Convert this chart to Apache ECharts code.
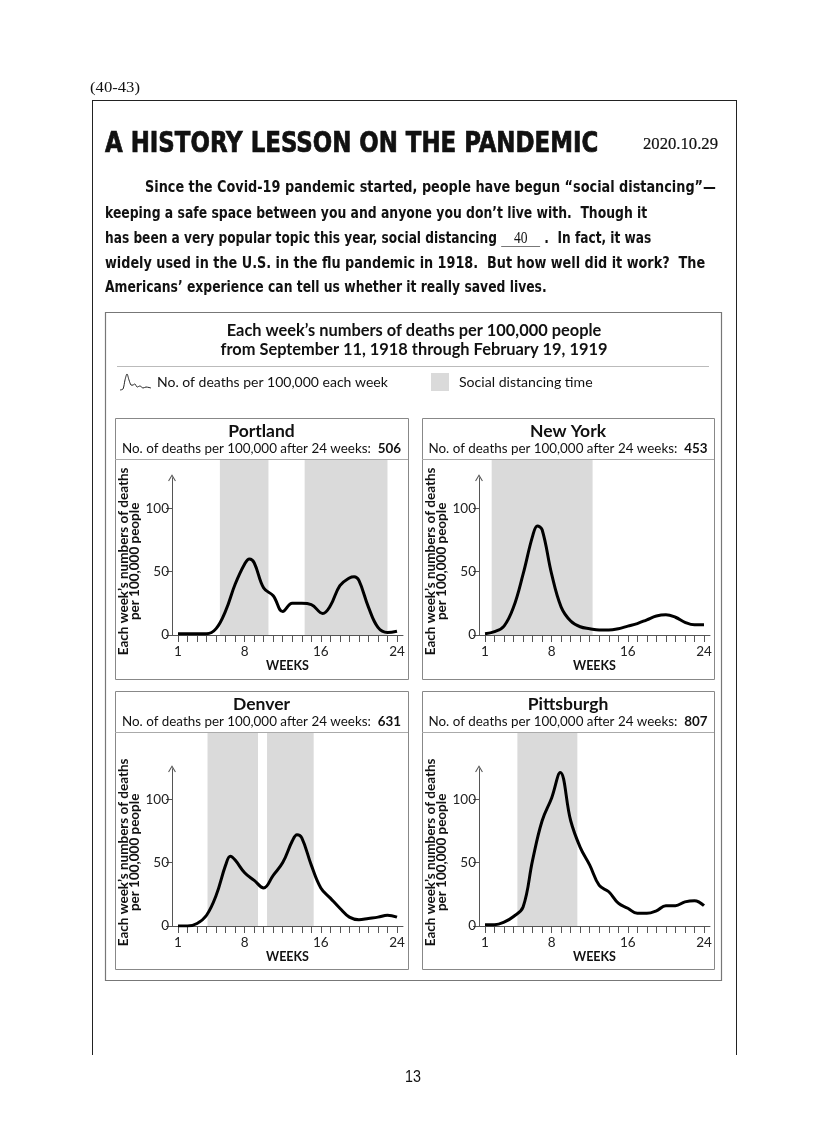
<!DOCTYPE html>
<html><head><meta charset="utf-8">
<script src="https://cdn.jsdelivr.net/npm/echarts@6/dist/echarts.min.js"></script>
<style>
html,body{margin:0;padding:0;background:#fff;}
#page{position:relative;width:827px;height:1142px;overflow:hidden;background:#fff;}
#chart{position:absolute;left:0;top:0;width:827px;height:1142px;z-index:1;}
.t{position:absolute;white-space:pre;transform-origin:0 50%;z-index:2;line-height:1.15;color:#111;}
.para{font-family:"Liberation Sans Narrow","DejaVu Sans Condensed","Liberation Sans",sans-serif;font-weight:bold;font-size:16px;}
.serif{font-family:"Liberation Serif","DejaVu Serif",serif;}
.blank{display:inline-block;width:46px;text-align:center;border-bottom:1px solid #777;font-family:"Liberation Serif",serif;font-weight:normal;line-height:1;}
.ln{position:absolute;background:#222;z-index:2;}
</style></head>
<body><div id="page">
<div id="chart"></div>
<div class="ln" style="left:92px;top:100px;width:645px;height:1px;"></div>
<div class="ln" style="left:92px;top:100px;width:1px;height:955px;"></div>
<div class="ln" style="left:736px;top:100px;width:1px;height:955px;"></div>
<div class="t serif" id="num" style="font-size:15px;">(40-43)</div>
<div class="t" id="title" style="font-family:'DejaVu Sans Condensed','Liberation Sans',sans-serif;font-weight:900;font-size:29px;-webkit-text-stroke:0.7px #111;">A HISTORY LESSON ON THE PANDEMIC</div>
<div class="t serif" id="date" style="font-size:16px;-webkit-text-stroke:0.2px #111;">2020.10.29</div>
<div class="t para" id="p1">Since the Covid-19 pandemic started, people have begun “social distancing”—</div>
<div class="t para" id="p2">keeping a safe space between you and anyone you don’t live with.  Though it</div>
<div class="t para" id="p3">has been a very popular topic this year, social distancing <span class="blank">40</span> .  In fact, it was</div>
<div class="t para" id="p4">widely used in the U.S. in the flu pandemic in 1918.  But how well did it work?  The</div>
<div class="t para" id="p5">Americans’ experience can tell us whether it really saved lives.</div>
<div class="t" id="pg" style="font-family:'Liberation Sans',sans-serif;font-size:17px;">13</div>
</div>
<script>
// ---------------- data ----------------
const cityNames = ['Portland', 'New York', 'Denver', 'Pittsburgh'];
const totalDeaths = [506, 453, 631, 807];

const portlandWeeks  = [1, 2, 3, 4, 5, 6, 7, 8, 8.5, 9, 10, 11, 12, 13, 14, 15, 16.2, 17, 18, 19, 19.5, 20, 21, 22, 23, 24];
const portlandDeaths = [1, 1, 1, 1, 5, 19, 40, 56, 60, 57, 37, 31, 18.5, 25, 25, 24, 17, 23, 39, 45, 46, 43, 22, 6, 2, 3];
const portlandDistancing = [[5.4, 10.5], [14.3, 23.0]];

const newYorkWeeks  = [1, 2, 3, 4, 5, 6, 6.5, 7, 8, 9, 10, 11, 12, 13, 14, 15, 16, 17, 18, 19, 20, 21, 22, 23, 24];
const newYorkDeaths = [1, 2.6, 7, 22, 48, 78, 86, 83, 48, 22, 11, 6.5, 5, 4, 4, 5, 7, 9, 12, 15, 16, 14, 10, 8, 8];
const newYorkDistancing = [[1.7, 12.3]];

const denverWeeks  = [1, 2, 3, 4, 5, 6, 6.5, 7, 8, 9, 10, 11, 12, 13, 13.5, 14, 15, 16, 17, 18, 19, 20, 21, 22, 23, 24];
const denverDeaths = [0, 0, 2, 8.5, 24, 48, 55, 52, 42, 36, 30, 40, 50, 67, 72, 69.5, 48, 30, 22, 14, 7, 5, 6, 7, 8.5, 7];
const denverDistancing = [[4.1, 9.4], [10.35, 15.25]];

const pittsburghWeeks  = [1, 2, 3, 4, 5, 6, 7, 8, 8.9, 10, 11, 12, 13, 14, 15, 16, 17, 18, 19, 20, 21, 22, 23, 24];
const pittsburghDeaths = [1, 1, 3, 7.5, 15, 52, 83, 101, 121, 83, 62, 48, 32, 27, 18, 14, 10, 10, 12, 16, 16, 19, 20, 16];
const pittsburghDistancing = [[4.4, 10.7]];

const weekTicks = [1, 2, 3, 4, 5, 6, 7, 8, 9, 10, 11, 12, 13, 14, 15, 16, 17, 18, 19, 20, 21, 22, 23, 24];
const weekLabels = [1, 8, 16, 24];
const deathLabels = [0, 50, 100];

const allWeeks = [portlandWeeks, newYorkWeeks, denverWeeks, pittsburghWeeks];
const allDeaths = [portlandDeaths, newYorkDeaths, denverDeaths, pittsburghDeaths];
const allDistancing = [portlandDistancing, newYorkDistancing, denverDistancing, pittsburghDistancing];

// ---------------- layout ----------------
const FONT = 'Lato, "Open Sans", sans-serif';
const panelBoxes = [
  {x: 115, y: 418, w: 293, h: 261},
  {x: 422, y: 418, w: 292, h: 261},
  {x: 115, y: 691, w: 293, h: 278},
  {x: 422, y: 691, w: 292, h: 278}
];
const plotGeom = [
  {left: 172, bottom: 635, sep: 459},
  {left: 479, bottom: 635, sep: 459},
  {left: 172, bottom: 926, sep: 732},
  {left: 479, bottom: 926, sep: 732}
];
const PLOT_W = 231, YMAX = 124, YPX = 1.268;

const grids = [], xAxes = [], yAxes = [], series = [], graphics = [];
const arrowPath = 'path://M0,10 L6,0 L12,10 L10.6,10.8 L6,3 L1.4,10.8 Z';

for (let i = 0; i < 4; i++) {
  const g = plotGeom[i];
  const plotTop = g.bottom - YMAX * YPX;
  // shading grid
  grids.push({left: g.left, top: g.sep + 1, width: PLOT_W, height: g.bottom - g.sep - 1, containLabel: false});
  xAxes.push({type: 'value', gridIndex: 2 * i, min: 0.37, max: 24.63, show: false});
  yAxes.push({type: 'value', gridIndex: 2 * i, min: 0, max: 1, show: false});
  series.push({
    type: 'line', xAxisIndex: 2 * i, yAxisIndex: 2 * i, data: [[allDistancing[i][0][0], 0]],
    symbol: 'none', lineStyle: {width: 0, opacity: 0}, silent: true, z: 1,
    markArea: {silent: true, itemStyle: {color: '#dadada'},
      data: allDistancing[i].map(r => [{xAxis: r[0]}, {xAxis: r[1]}])}
  });
  // main grid
  grids.push({left: g.left, top: plotTop, width: PLOT_W, height: YMAX * YPX, containLabel: false});
  xAxes.push({
    type: 'value', gridIndex: 2 * i + 1, min: 0.37, max: 24.63,
    axisLine: {show: true, onZero: false, lineStyle: {color: '#555', width: 1}},
    axisTick: {show: true, customValues: weekTicks, length: 7, lineStyle: {color: '#555'}},
    axisLabel: {customValues: weekLabels, fontSize: 13.5, color: '#222', margin: 10, fontFamily: FONT},
    splitLine: {show: false},
    name: 'WEEKS', nameLocation: 'middle', nameGap: 23,
    nameTextStyle: {fontWeight: 'bold', fontSize: 12.5, color: '#111', fontFamily: FONT}
  });
  yAxes.push({
    type: 'value', gridIndex: 2 * i + 1, min: 0, max: YMAX,
    axisLine: {show: true, lineStyle: {color: '#555', width: 1}, symbol: ['none', arrowPath], symbolSize: [8, 7]},
    axisTick: {show: true, customValues: deathLabels, length: 6, lineStyle: {color: '#555'}},
    axisLabel: {customValues: deathLabels, fontSize: 13.5, color: '#222', margin: 3, fontFamily: FONT},
    splitLine: {show: false},
    name: 'Each week’s numbers of deaths\nper 100,000 people', nameLocation: 'middle', nameGap: 30, nameRotate: 90,
    nameTextStyle: {fontWeight: 'bold', fontSize: 13.5, color: '#111', lineHeight: 11, fontFamily: FONT, padding: [0, 10, 0, 0]}
  });
  series.push({
    type: 'line', xAxisIndex: 2 * i + 1, yAxisIndex: 2 * i + 1,
    data: allWeeks[i].map((w, k) => [w, allDeaths[i][k]]),
    smooth: 0.4, symbol: 'none', lineStyle: {color: '#000', width: 3}, z: 5
  });

  // panel box, separator, titles
  const b = panelBoxes[i];
  graphics.push({type: 'rect', shape: {x: b.x + 0.5, y: b.y + 0.5, width: b.w, height: b.h},
    style: {fill: null, stroke: '#888', lineWidth: 1}, z: 10});
  graphics.push({type: 'line', shape: {x1: b.x, y1: g.sep + 0.5, x2: b.x + b.w, y2: g.sep + 0.5},
    style: {stroke: '#aaa', lineWidth: 1}, z: 10});
  const cx = b.x + b.w / 2;
  graphics.push({type: 'text', z: 10, style: {x: cx, y: b.y + 13, text: cityNames[i],
    font: 'bold 17.5px ' + FONT, fill: '#111', textAlign: 'center', textVerticalAlign: 'middle'}});
  graphics.push({type: 'text', z: 10, style: {x: cx, y: b.y + 31,
    text: '{n|No. of deaths per 100,000 after 24 weeks:  }{b|' + totalDeaths[i] + '}',
    rich: {n: {font: '13.4px ' + FONT, fill: '#111'}, b: {font: 'bold 13.4px ' + FONT, fill: '#111'}},
    textAlign: 'center', textVerticalAlign: 'middle'}});
}

// outer chart box, heading, legend
graphics.push({type: 'rect', shape: {x: 105.5, y: 312.5, width: 616, height: 668},
  style: {fill: null, stroke: '#777', lineWidth: 1.2}, z: 10});
graphics.push({type: 'text', z: 10, style: {x: 414, y: 331, text: 'Each week’s numbers of deaths per 100,000 people',
  font: 'bold 16.4px ' + FONT, fill: '#111', textAlign: 'center', textVerticalAlign: 'middle'}});
graphics.push({type: 'text', z: 10, style: {x: 414, y: 350, text: 'from September 11, 1918 through February 19, 1919',
  font: 'bold 16.4px ' + FONT, fill: '#111', textAlign: 'center', textVerticalAlign: 'middle'}});
graphics.push({type: 'line', shape: {x1: 117, y1: 366.5, x2: 709, y2: 366.5}, style: {stroke: '#bbb', lineWidth: 1}, z: 10});
graphics.push({type: 'polyline', z: 10, shape: {points: [[120, 390], [123, 389], [125, 380], [127, 374], [129, 380], [131, 385], [133, 385], [135, 384], [137, 387], [140, 386], [143, 388], [146, 387], [151, 388]], smooth: 0.3},
  style: {stroke: '#222', lineWidth: 1, fill: null}});
graphics.push({type: 'text', z: 10, style: {x: 157, y: 382, text: 'No. of deaths per 100,000 each week',
  font: '14px ' + FONT, fill: '#111', textVerticalAlign: 'middle'}});
graphics.push({type: 'rect', z: 10, shape: {x: 431, y: 373, width: 18, height: 18}, style: {fill: '#dadada'}});
graphics.push({type: 'text', z: 10, style: {x: 459, y: 382, text: 'Social distancing time',
  font: '14.1px ' + FONT, fill: '#111', textVerticalAlign: 'middle'}});

const chart = echarts.init(document.getElementById('chart'), null, {renderer: 'canvas'});
chart.setOption({
  animation: false,
  grid: grids, xAxis: xAxes, yAxis: yAxes, series: series, graphic: graphics
});

// ---------------- page text placement ----------------
function place(id, x, cy, w) {
  const el = document.getElementById(id);
  el.style.left = x + 'px';
  const h = el.offsetHeight;
  el.style.top = (cy - h / 2) + 'px';
  if (w) {
    const s = w / el.offsetWidth;
    el.style.transform = 'scaleX(' + s + ')';
  }
}
place('num', 90, 87, 50);
place('title', 105, 142, 493);
place('date', 643, 144, 75);
place('p1', 145, 187, 571);
place('p2', 105, 213, 542);
place('p3', 105, 238, 546);
place('p4', 105, 263, 600);
place('p5', 105, 287, 442);
place('pg', 405, 1077, 16);
</script>
</body></html>
